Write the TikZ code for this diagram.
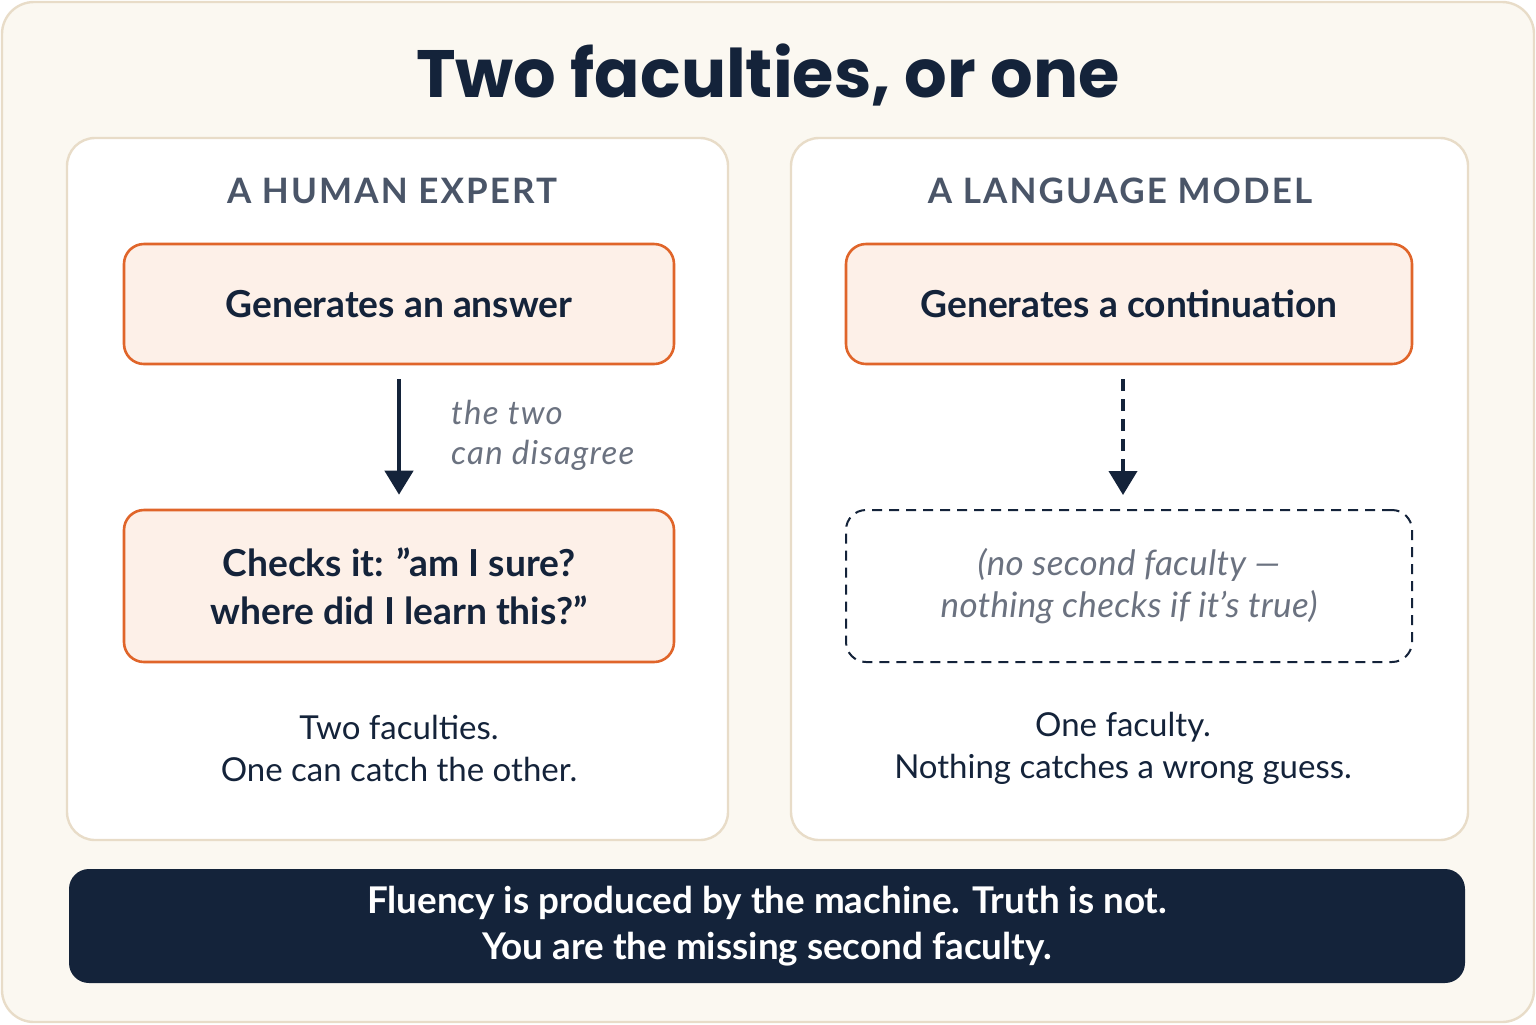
\documentclass[tikz,border=0pt]{standalone}
\usepackage{fontspec}
\setmainfont{Lato}
\newfontfamily\titlefont{Poppins}
\usetikzlibrary{positioning,arrows.meta}
\definecolor{navy}{HTML}{14233A}
\definecolor{cream}{HTML}{FBF8F1}
\definecolor{edge}{HTML}{E8DCC8}
\definecolor{peach}{HTML}{FDF0E8}
\definecolor{rust}{HTML}{E0652A}
\definecolor{slate}{HTML}{4A5568}
\definecolor{mute}{HTML}{6B7280}
\newcommand{\dq}{\symbol{34}}
\tikzset{
  panel/.style={draw=edge, line width=1.2pt, fill=white, rounded corners=14pt},
  stage/.style={draw=rust, line width=1.3pt, fill=peach, rounded corners=10pt,
    minimum width=275pt, align=center, font=\fontsize{18.6}{24}\selectfont\bfseries, text=navy},
  ghost/.style={draw=navy, line width=1pt, dash pattern=on 5pt off 3.5pt, fill=white,
    rounded corners=10pt, minimum width=283pt, minimum height=76pt, align=center,
    font=\fontsize{17.5}{21}\selectfont\itshape\addfontfeature{LetterSpace=1}, text=mute},
  head/.style={font=\fontsize{17.5}{20}\selectfont\bfseries\addfontfeature{LetterSpace=6}, text=slate},
  note/.style={font=\fontsize{16.5}{21}\selectfont, text=navy, align=center},
  link/.style={-{Triangle[length=12pt,width=14pt]}, line width=2.2pt, navy}
}
\begin{document}
\begin{tikzpicture}[x=0.5pt,y=-0.5pt]
    % Background
    \useasboundingbox (0,0) rectangle (1536,1024);
    \fill[cream, draw=edge, line width=1.2pt, rounded corners=16pt] (2,2) rectangle (1534,1022);
    \node[font=\titlefont\fontsize{33.5}{38}\selectfont\bfseries, text=navy] (title) at (768,75) {Two faculties, or one};

    % Panels
    \draw[panel] (67,138) rectangle (728,840);
    \draw[panel] (791,138) rectangle (1468,840);
    \node[head] (humanhead) at (392,191) {A HUMAN EXPERT};
    \node[head] (modelhead) at (1120,191) {A LANGUAGE MODEL};

    % Human side
    \node[stage, minimum height=60pt] (answer) at (399,304) {Generates an answer};
    \node[stage, minimum height=76pt] (check) at (399,586) {Checks it: \dq am I sure?\\where did I learn this?\dq};
    \draw[link] ([yshift=-7pt]answer.south) -- ([yshift=7pt]check.north);
    \node[font=\fontsize{16.5}{20}\selectfont\itshape\addfontfeature{LetterSpace=4}, text=mute, align=left, anchor=west]
        (disagree) at (444,435) {the two\\can disagree};
    \node[note] (humannote) at (399,748) {Two faculties.\\One can catch the other.};

    % Model side
    \node[stage, minimum height=60pt, minimum width=283pt] (cont) at (1129,304) {Generates a continuation};
    \node[ghost] (none) at (1129,586) {(no second faculty ---\\nothing checks if it's true)};
    \draw[link, line width=2pt, dash pattern=on 6pt off 4pt] ([xshift=-3pt,yshift=-7pt]cont.south)
        -- ([xshift=-3pt,yshift=7pt]none.north);
    \node[note] (modelnote) at (1123,748) {One faculty.\\Nothing catches a wrong guess.};

    % Banner
    \node[fill=navy, rounded corners=10pt, minimum width=698pt, minimum height=57pt, text=white,
        align=center, font=\fontsize{18.4}{23}\selectfont\bfseries] (banner) at (767,926)
        {Fluency is produced by the machine. Truth is not.\\You are the missing second faculty.};
\end{tikzpicture}
\end{document}
